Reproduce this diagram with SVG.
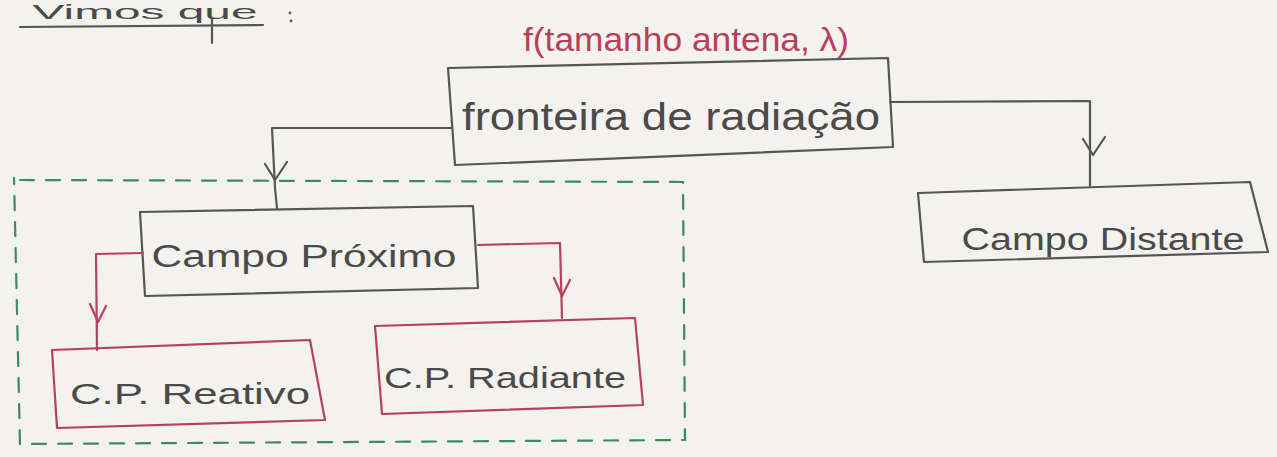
<svg xmlns="http://www.w3.org/2000/svg" width="1277" height="457" viewBox="0 0 1277 457">
<style>
.bg{fill:#f3f2ef}
.pen{fill:none;stroke:#555;stroke-width:2.2;stroke-linejoin:round;stroke-linecap:round}
.red{fill:none;stroke:#b8405a;stroke-width:2.2;stroke-linejoin:round;stroke-linecap:round}
.grn{fill:none;stroke:#3d8a5e;stroke-width:2.2;stroke-dasharray:14 12;stroke-linecap:round}
.t{font-family:"Liberation Sans",Arial,sans-serif;fill:#4a4a4a;text-anchor:middle}
.tr{font-family:"Liberation Sans",Arial,sans-serif;fill:#b8405a;text-anchor:middle}
</style>
<defs>
<path id="ahg" d="M-10,-16 L0,0 L12,-18" fill="none" stroke="#555" stroke-width="2.2" stroke-linecap="round" stroke-linejoin="round"/>
<path id="ahr" d="M-8,-18 L0,0 L8,-16" fill="none" stroke="#b8405a" stroke-width="2.2" stroke-linecap="round" stroke-linejoin="round"/>
</defs>
<rect class="bg" x="0" y="0" width="1277" height="457"/>

<g id="header">
<text class="t" x="145" y="19" font-size="21" textLength="225" lengthAdjust="spacingAndGlyphs">Vimos que</text>
<path class="pen" d="M20,27 L263,25 M212,18 L212,43"/>
<circle cx="290" cy="13" r="1.4" fill="#555"/><circle cx="291" cy="21" r="1.4" fill="#555"/>
</g>

<g id="green-region">
<path class="grn" d="M20,180 L683,182 L685,440 L20,444 L14,178"/>
</g>

<g id="node-fronteira">
<text class="tr" x="686" y="51" font-size="34" textLength="326" lengthAdjust="spacingAndGlyphs">f(tamanho antena, λ)</text>
<path class="pen" d="M448,68 L888,58 L893,147 L455,165 Z"/>
<text class="t" x="671" y="130" font-size="38" textLength="418" lengthAdjust="spacingAndGlyphs">fronteira de radiação</text>
</g>

<g id="node-campo-proximo">
<path class="pen" d="M140,212 L473,206 L478,288 L145,296 Z"/>
<text class="t" x="304" y="267" font-size="31" textLength="305" lengthAdjust="spacingAndGlyphs">Campo Próximo</text>
</g>

<g id="node-reativo">
<path class="red" d="M52,350 L310,340 L325,420 L57,428 Z"/>
<text class="t" x="190" y="404" font-size="30" textLength="240" lengthAdjust="spacingAndGlyphs">C.P. Reativo</text>
</g>

<g id="node-radiante">
<path class="red" d="M375,326 L635,318 L643,405 L382,414 Z"/>
<text class="t" x="505" y="388" font-size="30" textLength="242" lengthAdjust="spacingAndGlyphs">C.P. Radiante</text>
</g>

<g id="node-campo-distante">
<path class="pen" d="M918,193 L1250,182 L1268,252 L924,262 Z"/>
<text class="t" x="1103" y="250" font-size="31" textLength="283" lengthAdjust="spacingAndGlyphs">Campo Distante</text>
</g>

<g id="connectors">
<path class="pen" d="M452,128 L272,128 L275,188 L277,208"/>
<use href="#ahg" x="275" y="180"/>
<path class="pen" d="M890,102 L1090,101 L1090,186"/>
<use href="#ahg" x="1093" y="155"/>
<path class="red" d="M143,253 L96,254 L97,350"/>
<use href="#ahr" x="98" y="322"/>
<path class="red" d="M478,245 L560,243 L562,318"/>
<use href="#ahr" x="562" y="296"/>
</g>
</svg>
